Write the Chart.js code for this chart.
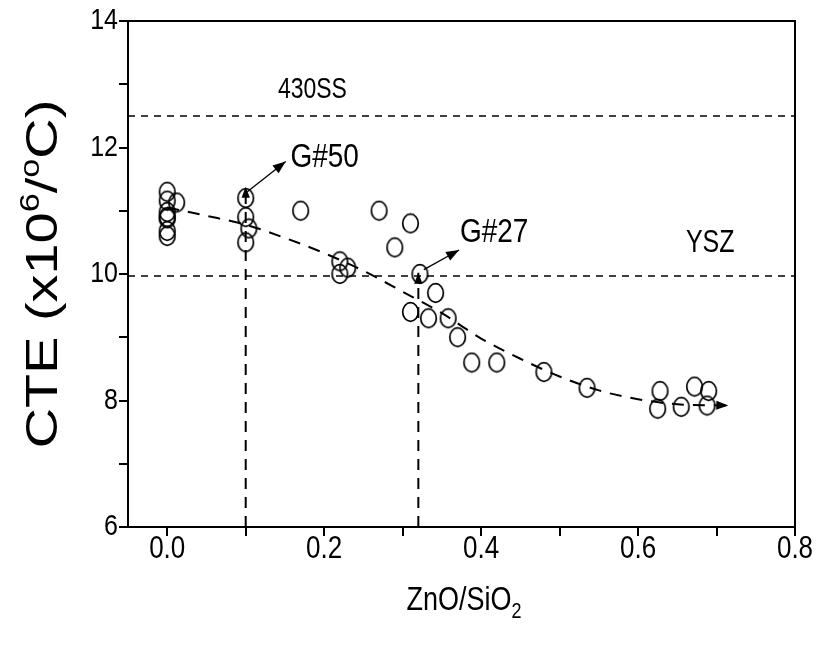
<!DOCTYPE html>
<html>
<head>
<meta charset="utf-8">
<script src="https://cdn.jsdelivr.net/npm/chart.js@4.4.1/dist/chart.umd.min.js"></script>
<style>
  html, body { margin: 0; padding: 0; background: #fff; }
  #wrap { width: 821px; height: 646px; }
</style>
</head>
<body>
<div id="wrap"><canvas id="cteChart" width="821" height="646"></canvas></div>
<script>
// measured glasses: ZnO/SiO2 ratio vs CTE
const ratio = [
  0, 0, 0.012, 0, 0, 0, 0, 0,
  0.1, 0.1, 0.104, 0.1,
  0.17, 0.22, 0.23, 0.22, 0.27, 0.29, 0.31, 0.322, 0.342,
  0.31, 0.333, 0.358, 0.37, 0.388, 0.42, 0.48, 0.535,
  0.628, 0.625, 0.655, 0.672, 0.69, 0.688
];
const cte = [
  11.3, 11.16, 11.13, 10.98, 10.88, 10.9, 10.68, 10.6,
  11.2, 10.9, 10.72, 10.5,
  11.0, 10.2, 10.1, 10.0, 11.0, 10.42, 10.8, 10.0, 9.7,
  9.4, 9.3, 9.3, 9.0, 8.6, 8.6, 8.45, 8.2,
  8.15, 7.87, 7.9, 8.22, 8.15, 7.92
];

// trend curve
const trendX = [0, 0.05, 0.1, 0.15, 0.2, 0.25, 0.3, 0.35, 0.4, 0.45, 0.5, 0.55, 0.6, 0.65, 0.715];
const trendY = [11.05, 10.92, 10.78, 10.57, 10.33, 10.05, 9.72, 9.38, 8.98, 8.66, 8.38, 8.16, 8.02, 7.94, 7.92];

// reference materials
const cte430SS = 12.5;
const cteYSZ = 9.97;

// marked glasses G#50 and G#27
const g50 = { x: 0.1, y: 11.38 };
const g27 = { x: 0.32, y: 10.02 };
const g50Label = { x: 0.157, y: 11.84 };
const g27Label = { x: 0.373, y: 10.65 };
const g50Arrow = [{ x: 0.102, y: 11.3 }, { x: 0.151, y: 11.78 }];
const g27Arrow = [{ x: 0.327, y: 10.07 }, { x: 0.372, y: 10.38 }];

const xTicks = [0, 0.1, 0.2, 0.3, 0.4, 0.5, 0.6, 0.7, 0.8];

const xMin = -0.05, xMax = 0.8, yMin = 6, yMax = 14;

const FONT = "'Liberation Sans', Arial, sans-serif";

// open ellipse used as the point marker
function ringMarker() {
  const c = document.createElement("canvas");
  c.width = 19;
  c.height = 22;
  const g = c.getContext("2d");
  g.strokeStyle = "#000";
  g.lineWidth = 1.7;
  g.beginPath();
  g.ellipse(9.5, 11, 7.8, 9.3, 0, 0, Math.PI * 2);
  g.stroke();
  return c;
}

function toPts(xs, ys) {
  return xs.map((x, i) => ({ x: x, y: ys[i] }));
}

function arrowHead(ctx, x0, y0, x1, y1, size) {
  const a = Math.atan2(y1 - y0, x1 - x0);
  ctx.save();
  ctx.translate(x1, y1);
  ctx.rotate(a);
  ctx.beginPath();
  ctx.moveTo(0, 0);
  ctx.lineTo(-size, -size * 0.38);
  ctx.lineTo(-size, size * 0.38);
  ctx.closePath();
  ctx.fillStyle = "#000";
  ctx.fill();
  ctx.restore();
}

// text a bit taller than wide, like the rest of the figure
function tallText(ctx, text, x, y, size, align, sy) {
  ctx.save();
  ctx.translate(x, y);
  ctx.scale(1, sy);
  ctx.font = size + "px " + FONT;
  ctx.fillStyle = "#000";
  ctx.textAlign = align;
  ctx.textBaseline = "middle";
  ctx.fillText(text, 0, 0);
  ctx.restore();
}

const decorations = {
  id: "decorations",
  afterDatasetsDraw(chart) {
    const ctx = chart.ctx;
    const xs = chart.scales.x, ys = chart.scales.y;
    const area = chart.chartArea;

    // arrow heads on the last segment of flagged datasets
    chart.data.datasets.forEach((ds, i) => {
      if (!ds.arrow) return;
      const pts = chart.getDatasetMeta(i).data;
      const a = pts[pts.length - 2], b = pts[pts.length - 1];
      arrowHead(ctx, a.x, a.y, b.x, b.y, ds.arrow);
    });

    // frame on top and right
    ctx.save();
    ctx.strokeStyle = "#000";
    ctx.lineWidth = 2;
    ctx.beginPath();
    ctx.moveTo(area.left, area.top);
    ctx.lineTo(area.right, area.top);
    ctx.lineTo(area.right, area.bottom);
    ctx.stroke();
    ctx.restore();

    // annotations
    tallText(ctx, "430SS", xs.getPixelForValue(0.185), ys.getPixelForValue(12.91), 23, "center", 1.28);
    tallText(ctx, "YSZ", xs.getPixelForValue(0.692), ys.getPixelForValue(10.49), 25, "center", 1.25);
    tallText(ctx, "G#50", xs.getPixelForValue(g50Label.x), ys.getPixelForValue(g50Label.y), 28, "left", 1.18);
    tallText(ctx, "G#27", xs.getPixelForValue(g27Label.x), ys.getPixelForValue(g27Label.y), 28, "left", 1.18);
  },
  afterDraw(chart) {
    const ctx = chart.ctx;
    const area = chart.chartArea;
    const xs = chart.scales.x, ys = chart.scales.y;

    // tick labels
    xs.ticks.forEach(t => {
      if (Math.round(t.value * 10) % 2 !== 0) return;
      tallText(ctx, t.value.toFixed(1), xs.getPixelForValue(t.value), area.bottom + 22, 26, "center", 1.2);
    });
    ys.ticks.forEach(t => {
      if (t.value % 2 !== 0) return;
      tallText(ctx, String(t.value), area.left - 10, ys.getPixelForValue(t.value), 25, "right", 1.2);
    });

    // y title, rotated, with superscripts
    ctx.save();
    ctx.fillStyle = "#000";
    ctx.textBaseline = "alphabetic";
    ctx.translate(57, (area.top + area.bottom) / 2);
    ctx.rotate(-Math.PI / 2);
    ctx.scale(1.27, 1);
    const big = "44px " + FONT;
    const sup = "27px " + FONT;
    const parts = [
      ["CTE (x10", big, 0],
      ["6", sup, -18],
      ["/", big, 0],
      ["o", sup, -18],
      ["C)", big, 0]
    ];
    let total = 0;
    parts.forEach(p => { ctx.font = p[1]; total += ctx.measureText(p[0]).width; });
    let cx = -total / 2;
    parts.forEach(p => {
      ctx.font = p[1];
      ctx.fillText(p[0], cx, p[2]);
      cx += ctx.measureText(p[0]).width;
    });
    ctx.restore();

    // x title with subscript
    ctx.save();
    ctx.fillStyle = "#000";
    ctx.translate(0, 610);
    ctx.scale(1, 1.25);
    const xt = [
      ["ZnO/SiO", "27px " + FONT, 0],
      ["2", "18px " + FONT, 6]
    ];
    let w = 0;
    xt.forEach(p => { ctx.font = p[1]; w += ctx.measureText(p[0]).width; });
    let tx = 464 - w / 2;
    xt.forEach(p => {
      ctx.font = p[1];
      ctx.fillText(p[0], tx, p[2]);
      tx += ctx.measureText(p[0]).width;
    });
    ctx.restore();
  }
};

new Chart(
  document.getElementById("cteChart"),
  {
    type: "scatter",
    data: {
      datasets: [
        {
          data: toPts(ratio, cte),
          pointStyle: ringMarker(),
          pointRadius: 9,
          showLine: false
        },
        {
          data: toPts(trendX, trendY),
          showLine: true,
          borderColor: "#000",
          borderWidth: 2,
          borderDash: [12, 9],
          pointRadius: 0,
          cubicInterpolationMode: "monotone",
          arrow: 12
        },
        {
          data: [{ x: xMin, y: cte430SS }, { x: xMax, y: cte430SS }],
          showLine: true, borderColor: "#000", borderWidth: 1.5,
          borderDash: [7, 6], pointRadius: 0
        },
        {
          data: [{ x: xMin, y: cteYSZ }, { x: xMax, y: cteYSZ }],
          showLine: true, borderColor: "#000", borderWidth: 1.5,
          borderDash: [7, 6], pointRadius: 0
        },
        {
          data: [{ x: g50.x, y: yMin }, g50],
          showLine: true, borderColor: "#000", borderWidth: 2,
          borderDash: [11, 8], pointRadius: 0, arrow: 11
        },
        {
          data: [{ x: g27.x, y: yMin }, g27],
          showLine: true, borderColor: "#000", borderWidth: 2,
          borderDash: [11, 8], pointRadius: 0, arrow: 11
        },
        {
          data: g50Arrow,
          showLine: true, borderColor: "#000", borderWidth: 1.3,
          pointRadius: 0, arrow: 13
        },
        {
          data: g27Arrow,
          showLine: true, borderColor: "#000", borderWidth: 1.3,
          pointRadius: 0, arrow: 13
        }
      ]
    },
    options: {
      responsive: false,
      animation: false,
      layout: { padding: { top: 21, right: 26, left: 0, bottom: 0 } },
      plugins: {
        legend: { display: false },
        tooltip: { enabled: false }
      },
      scales: {
        x: {
          type: "linear",
          min: xMin,
          max: xMax,
          afterBuildTicks(scale) {
            scale.ticks = xTicks.map(v => ({ value: v }));
          },
          afterFit(scale) { scale.height = 119; },
          border: { display: true, color: "#000", width: 2 },
          grid: { drawOnChartArea: false, drawTicks: true, tickLength: 9, color: "#000", lineWidth: 2 },
          ticks: { display: false }
        },
        y: {
          type: "linear",
          min: yMin,
          max: yMax,
          afterFit(scale) { scale.width = 128; },
          border: { display: true, color: "#000", width: 2 },
          grid: { drawOnChartArea: false, drawTicks: true, tickLength: 9, color: "#000", lineWidth: 2 },
          ticks: { display: false, stepSize: 1 }
        }
      }
    },
    plugins: [decorations]
  }
);
</script>
</body>
</html>
